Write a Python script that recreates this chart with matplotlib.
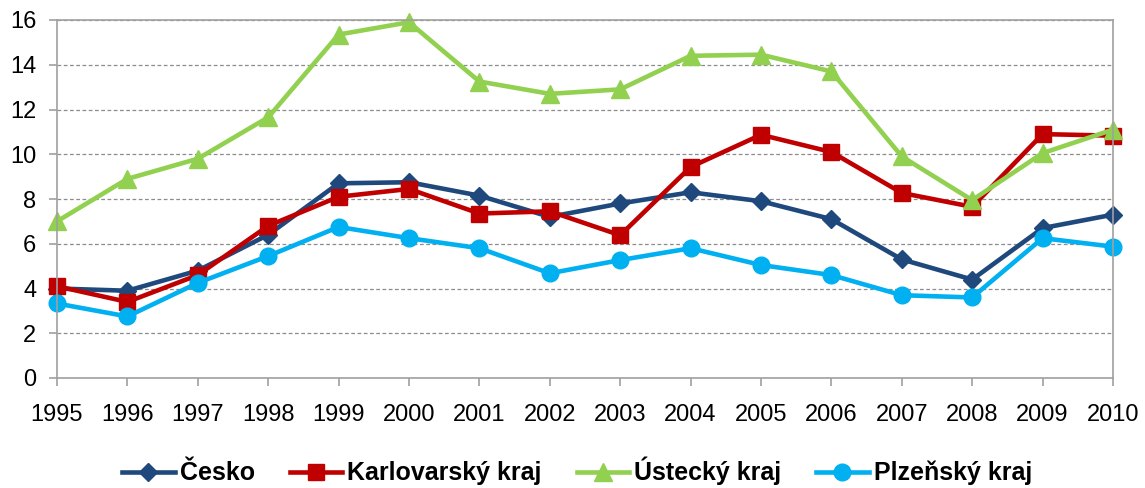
import matplotlib
matplotlib.use("Agg")
import matplotlib.pyplot as plt
from matplotlib.ticker import MultipleLocator

years = list(range(1995, 2011))
cesko = [4.0, 3.9, 4.8, 6.4, 8.7, 8.75, 8.15, 7.2, 7.8, 8.3, 7.9, 7.1, 5.3, 4.4, 6.7, 7.3]
karlovarsky = [4.1, 3.4, 4.6, 6.8, 8.1, 8.45, 7.35, 7.45, 6.38, 9.43, 10.87, 10.1, 8.27, 7.65, 10.9, 10.83]
ustecky = [7.0, 8.9, 9.8, 11.65, 15.35, 15.9, 13.25, 12.7, 12.9, 14.4, 14.45, 13.7, 9.9, 7.95, 10.05, 11.1]
plzensky = [3.33, 2.75, 4.25, 5.45, 6.75, 6.25, 5.8, 4.68, 5.27, 5.8, 5.05, 4.6, 3.7, 3.6, 6.25, 5.87]
series_names = ["Česko", "Karlovarský kraj", "Ústecký kraj", "Plzeňský kraj"]

plt.rcParams['font.family'] = ['Liberation Sans', 'DejaVu Sans']

fig = plt.figure(figsize=(11.45, 4.88), dpi=100)
ax = fig.add_axes([57/1145, 1 - 378/488, (1113 - 57)/1145, (378 - 20)/488])

styles = [
    dict(color='#1F497D', marker='D', markersize=9),
    dict(color='#C00000', marker='s', markersize=11.5),
    dict(color='#92D050', marker='^', markersize=13),
    dict(color='#00B0F0', marker='o', markersize=12),
]
for vals, name, st in zip([cesko, karlovarsky, ustecky, plzensky], series_names, styles):
    ax.plot(years, vals, linewidth=3.3, label=name, clip_on=False, **st)

ax.set_xlim(1995, 2010)
ax.set_ylim(0, 16)
ax.yaxis.set_major_locator(MultipleLocator(2))
ax.set_xticks(years)
ax.set_xticklabels([str(y) for y in years])
ax.grid(axis='y', color='#8c8c8c', linestyle=(0, (3, 2)), linewidth=0.9)
ax.set_axisbelow(True)
for s in ax.spines.values():
    s.set_color('#a0a0a0')
    s.set_linewidth(1.2)
ax.tick_params(axis='both', direction='out', length=6, width=1.2, color='#a0a0a0',
               labelsize=17, labelcolor='black')
ax.tick_params(axis='x', pad=13)
ax.tick_params(axis='y', pad=9)

leg = fig.legend(loc='center', bbox_to_anchor=(577/1145, 1 - 471/488), ncol=4, frameon=False,
                 handlelength=2.1, columnspacing=1.4, handletextpad=0.2,
                 borderpad=0.1,
                 prop=dict(family=['Liberation Sans', 'DejaVu Sans'],
                           weight='bold', size=18))

fig.savefig('out.png', dpi=100)
